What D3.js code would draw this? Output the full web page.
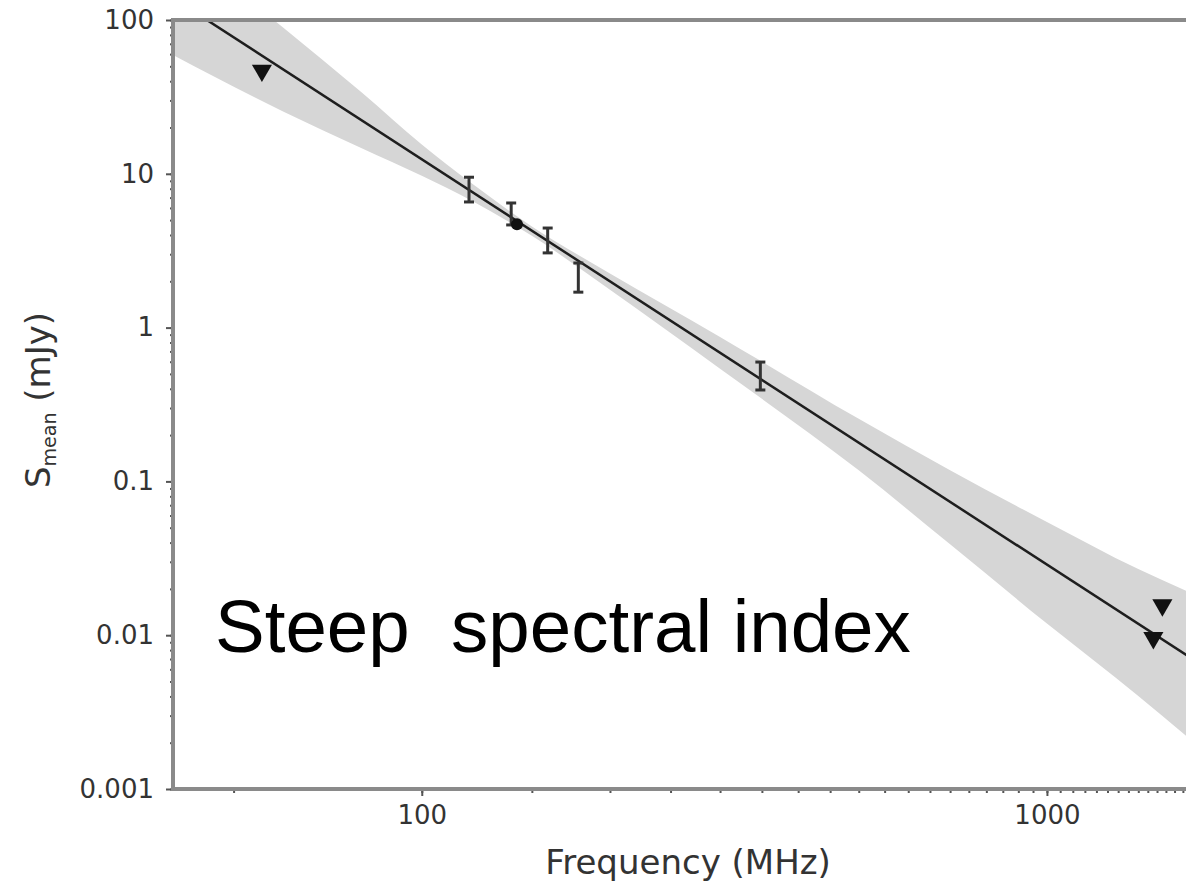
<!DOCTYPE html>
<html>
<head>
<meta charset="utf-8">
<script src="https://cdn.jsdelivr.net/npm/d3@7"></script>
<style>
  body { margin: 0; background: #fff; }
  svg { display: block; }
</style>
</head>
<body>
<script>
// measured points (MHz, mJy)
let detFreq = [119, 139, 159, 178, 348]
let detFlux = [8.1, 5.5, 3.68, 2.13, 0.48]
let detHigh = [9.5, 6.46, 4.44, 2.63, 0.597]
let detLow = [6.56, 4.65, 3.06, 1.70, 0.393]

let limFreq = [55.5, 1530, 1480]
let limFlux = [47, 0.0157, 0.0096]

let dotFreq = [142]
let dotFlux = [4.7]

// fitted power law
let fitFreq = [40, 1700]
let fitFlux = [139, 0.0071]

// shaded band
let bandFreq = [40, 60, 80, 100, 120, 150, 200, 300, 500, 700, 1000, 1400, 1700]
let bandHigh = [327, 89.4, 34.0, 15.5, 8.7, 4.55, 2.25, 0.87, 0.255, 0.118, 0.0545, 0.0269, 0.0188]
let bandLow = [59.2, 25.4, 14.7, 9.7, 6.7, 3.95, 1.76, 0.54, 0.118, 0.039, 0.0119, 0.00403, 0.00208]

let yTicks = [100, 10, 1, 0.1, 0.01, 0.001]
let yTickLabels = ["100", "10", "1", "0.1", "0.01", "0.001"]
let xTicks = [100, 1000]
let xTickLabels = ["100", "1000"]

let W = 1186, H = 885
let mLeft = 173, mTop = 20, mBottom = 789

let svg = d3.select("body")
    .append("svg")
    .attr("width", W)
    .attr("height", H)

let x = d3.scaleLog().domain([40, 1669]).range([mLeft, W])
let y = d3.scaleLog().domain([0.001, 100]).range([mBottom, mTop])

svg.append("clipPath").attr("id", "plot")
  .append("rect")
    .attr("x", mLeft).attr("y", mTop)
    .attr("width", W - mLeft).attr("height", mBottom - mTop)

let g = svg.append("g").attr("clip-path", "url(#plot)")

// band
let band = bandFreq.map((f, i) => ({f: f, hi: bandHigh[i], lo: bandLow[i]}))
let area = d3.area()
    .x(d => x(d.f))
    .y0(d => y(d.lo))
    .y1(d => y(d.hi))
    .curve(d3.curveMonotoneX)

g.append("path")
    .datum(band)
    .attr("d", area)
    .attr("fill", "#d6d6d6")

// fit line
let line = d3.line().x(d => x(d[0])).y(d => y(d[1]))
g.append("path")
    .attr("d", line(fitFreq.map((f, i) => [f, fitFlux[i]])))
    .attr("fill", "none")
    .attr("stroke", "#1e1e1e")
    .attr("stroke-width", 2.5)

// error bars
let det = detFreq.map((f, i) => ({f: f, v: detFlux[i], hi: detHigh[i], lo: detLow[i]}))
let eb = g.selectAll(".eb").data(det).enter().append("g").attr("class", "eb")
    .attr("stroke", "#333")
    .attr("stroke-width", 3)
eb.append("line")
    .attr("x1", d => x(d.f)).attr("x2", d => x(d.f))
    .attr("y1", d => y(d.hi)).attr("y2", d => y(d.lo))
eb.append("line")
    .attr("x1", d => x(d.f) - 5).attr("x2", d => x(d.f) + 5)
    .attr("y1", d => y(d.hi)).attr("y2", d => y(d.hi))
eb.append("line")
    .attr("x1", d => x(d.f) - 5).attr("x2", d => x(d.f) + 5)
    .attr("y1", d => y(d.lo)).attr("y2", d => y(d.lo))

// dot
g.selectAll(".dot").data(dotFreq).enter().append("circle")
    .attr("cx", d => x(d))
    .attr("cy", (d, i) => y(dotFlux[i]))
    .attr("r", 6)
    .attr("fill", "#111")

// upper limits
let tri = d3.symbol().type(d3.symbolTriangle).size(175)
g.selectAll(".lim").data(limFreq).enter().append("path")
    .attr("d", tri)
    .attr("transform", (d, i) => `translate(${x(d)},${y(limFlux[i])}) rotate(180)`)
    .attr("fill", "#111")

// axes
let spine = "#8a8a8a"
let tickFont = "DejaVu Sans, sans-serif"

let yAxis = d3.axisLeft(y).tickValues(yTicks).tickSize(7)
    .tickFormat((d, i) => yTickLabels[i]).tickPadding(12)
let yMinor = d3.axisLeft(y).ticks(50).tickSize(3).tickFormat("")
let xAxis = d3.axisBottom(x).tickValues(xTicks).tickSize(7)
    .tickFormat((d, i) => xTickLabels[i]).tickPadding(10)
let xMinor = d3.axisBottom(x).ticks(40).tickSize(4).tickFormat("")

function styleAxis(sel) {
  sel.select(".domain").remove()
  sel.selectAll("line").attr("stroke", "#555").attr("stroke-width", 2)
  sel.selectAll("text").attr("font-family", tickFont).attr("font-size", 26).attr("fill", "#333")
}

svg.append("g").attr("transform", `translate(${mLeft},0)`).call(yMinor).call(styleAxis)
svg.append("g").attr("transform", `translate(${mLeft},0)`).call(yAxis).call(styleAxis)
svg.append("g").attr("transform", `translate(0,${mBottom})`).call(xMinor).call(styleAxis)
svg.append("g").attr("transform", `translate(0,${mBottom})`).call(xAxis).call(styleAxis)

// spines
svg.append("line").attr("x1", mLeft).attr("x2", W).attr("y1", mTop).attr("y2", mTop)
    .attr("stroke", spine).attr("stroke-width", 4)
svg.append("line").attr("x1", mLeft).attr("x2", W).attr("y1", mBottom).attr("y2", mBottom)
    .attr("stroke", spine).attr("stroke-width", 4)
svg.append("line").attr("x1", mLeft).attr("x2", mLeft).attr("y1", mTop - 2).attr("y2", mBottom + 2)
    .attr("stroke", spine).attr("stroke-width", 4)

// axis labels
svg.append("text")
    .attr("x", 688).attr("y", 874)
    .attr("text-anchor", "middle")
    .attr("font-family", tickFont).attr("font-size", 34).attr("fill", "#333")
    .text("Frequency (MHz)")

let yl = svg.append("text")
    .attr("transform", "translate(50,400) rotate(-90)")
    .attr("text-anchor", "middle")
    .attr("font-family", tickFont).attr("font-size", 34).attr("fill", "#333")
yl.append("tspan").text("S")
yl.append("tspan").attr("font-size", 19).attr("dy", 6).text("mean")
yl.append("tspan").attr("dy", -6).text("\u00a0(mJy)")

// annotation
svg.append("text")
    .attr("x", 215).attr("y", 652)
    .attr("font-family", "Liberation Sans, Arial, sans-serif")
    .attr("font-size", 74.5)
    .attr("fill", "#000")
    .attr("xml:space", "preserve")
    .style("white-space", "pre")
    .text("Steep  spectral index")
</script>
</body>
</html>
